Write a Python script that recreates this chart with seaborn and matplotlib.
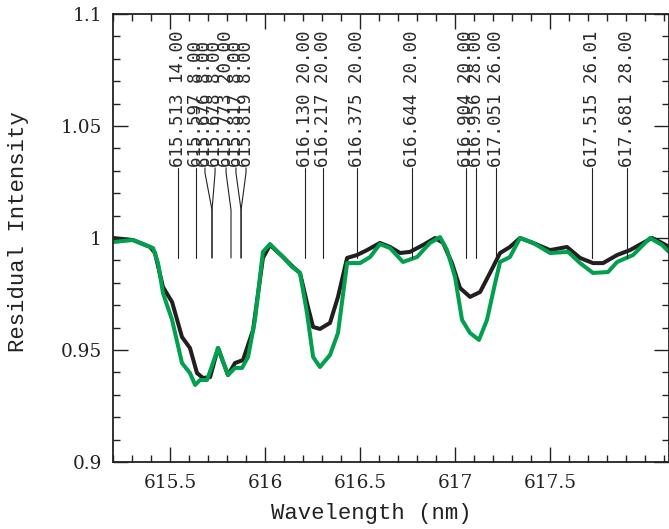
import matplotlib
matplotlib.use("Agg")
import numpy as np
import pandas as pd
import seaborn as sns
import matplotlib.pyplot as plt
from matplotlib.ticker import FixedLocator, MultipleLocator, FuncFormatter

# ---------------- data ----------------
obs_wl = [615.2, 615.305, 615.395, 615.421, 615.463, 615.511, 615.563, 615.605, 615.642, 615.674,
          615.711, 615.753, 615.805, 615.842, 615.884, 615.937, 615.989, 616.026, 616.095, 616.147,
          616.184, 616.226, 616.253, 616.289, 616.342, 616.384, 616.432, 616.484, 616.537, 616.605,
          616.658, 616.711, 616.763, 616.832, 616.895, 616.937, 616.984, 617.026, 617.079, 617.132,
          617.184, 617.237, 617.289, 617.342, 617.411, 617.5, 617.589, 617.658, 617.726, 617.779,
          617.853, 617.921, 617.989, 618.037, 618.089, 618.126]
obs_ri = [1.0, 0.9991, 0.996, 0.9933, 0.9781, 0.9714, 0.9558, 0.9509, 0.9397, 0.9375,
          0.9379, 0.9509, 0.9388, 0.9442, 0.9455, 0.9589, 0.9911, 0.9969, 0.9915, 0.9871,
          0.9844, 0.9692, 0.9603, 0.9594, 0.9621, 0.9737, 0.9911, 0.9924, 0.9946, 0.9978,
          0.996, 0.9933, 0.9938, 0.9969, 1.0, 0.9978, 0.9888, 0.9777, 0.9737, 0.9759,
          0.9844, 0.9933, 0.996, 1.0, 0.9978, 0.9946, 0.996, 0.9911, 0.9888, 0.9888,
          0.9924, 0.9946, 0.9978, 1.0, 0.9978, 0.996]

mod_wl = [615.2, 615.305, 615.411, 615.437, 615.463, 615.511, 615.563, 615.605, 615.632, 615.658,
          615.695, 615.753, 615.805, 615.842, 615.879, 615.911, 615.947, 615.989, 616.026, 616.095,
          616.142, 616.184, 616.221, 616.253, 616.289, 616.342, 616.384, 616.432, 616.5, 616.553,
          616.605, 616.658, 616.726, 616.8, 616.868, 616.921, 616.958, 617.0, 617.037, 617.079,
          617.126, 617.168, 617.211, 617.237, 617.289, 617.342, 617.411, 617.5, 617.595, 617.658,
          617.726, 617.805, 617.853, 617.937, 618.026, 618.089, 618.126]
mod_ri = [0.9982, 0.9991, 0.9955, 0.9888, 0.9754, 0.9634, 0.9442, 0.9397, 0.9344, 0.9366,
          0.9366, 0.9509, 0.9388, 0.942, 0.942, 0.9469, 0.9634, 0.9938, 0.9973, 0.9915,
          0.9871, 0.9844, 0.9665, 0.9469, 0.9424, 0.9478, 0.9576, 0.9888, 0.9888, 0.9915,
          0.9973, 0.9955, 0.9893, 0.9915, 0.9978, 1.0004, 0.9946, 0.9826, 0.9634, 0.9576,
          0.9545, 0.9634, 0.9799, 0.9893, 0.9915, 1.0, 0.9978, 0.9933, 0.9938, 0.9888,
          0.9844, 0.9848, 0.9893, 0.9924, 1.0, 0.9969, 0.9938]

line_labels = ["615.513 14.00", "615.597 8.00", "615.676 8.00", "615.678 8.00", "615.773 20.00",
               "615.817 8.00", "615.819 8.00", "616.130 20.00", "616.217 20.00", "616.375 20.00",
               "616.644 20.00", "616.904 20.00", "616.956 28.00", "617.051 26.00", "617.515 26.01",
               "617.681 28.00"]
label_pos = [615.542, 615.637, 615.684, 615.737, 615.795, 615.847, 615.900, 616.211, 616.305,
             616.484, 616.774, 617.058, 617.111, 617.216, 617.721, 617.905]
mark_pos = [615.542, 615.637, 615.721, 615.721, 615.821, 615.874, 615.874, 616.211, 616.305,
            616.484, 616.774, 617.058, 617.111, 617.216, 617.721, 617.905]

x_major = [615.5, 616.0, 616.5, 617.0, 617.5]
y_major = [0.9, 0.95, 1.0, 1.05, 1.1]

# ---------------- figure ----------------
sns.set_theme(style="ticks")
plt.rcParams["font.family"] = ["DejaVu Serif"]
plt.rcParams["lines.solid_joinstyle"] = "round"
plt.rcParams["lines.solid_capstyle"] = "round"

W, H = 669, 529
fig = plt.figure(figsize=(W / 100, H / 100), dpi=100)
ax = fig.add_axes([113 / W, 1 - 462 / H, 556 / W, 448 / H])

df = pd.concat([
    pd.DataFrame({"wl": obs_wl, "ri": obs_ri, "series": "observed"}),
    pd.DataFrame({"wl": mod_wl, "ri": mod_ri, "series": "synthetic"}),
])
sns.lineplot(data=df, x="wl", y="ri", hue="series", hue_order=["observed", "synthetic"],
             palette={"observed": "#231f20", "synthetic": "#00a04e"},
             estimator=None, sort=False, linewidth=2.9, legend=False, ax=ax)

# line identifications
y_top, y_kink, y_bot = 1.0313, 1.0125, 0.9911
for lab, lx, mx in zip(line_labels, label_pos, mark_pos):
    ax.plot([lx, lx, mx, mx], [y_top, y_top - 0.0022, y_kink, y_bot], color="#222222",
            lw=0.8, solid_joinstyle="miter")
    ax.text(lx, y_top + 0.0004, lab, rotation=90, ha="center", va="bottom",
            fontsize=12.6, family="DejaVu Sans Mono", color="#2a2a2a")

ax.set_xlim(615.2, 618.126)
ax.set_ylim(0.9, 1.1)
ax.xaxis.set_major_locator(FixedLocator(x_major))
ax.xaxis.set_minor_locator(MultipleLocator(0.1))
ax.yaxis.set_major_locator(FixedLocator(y_major))
ax.yaxis.set_minor_locator(MultipleLocator(0.01))
fmt = FuncFormatter(lambda v, p: "%g" % round(v, 3))
ax.xaxis.set_major_formatter(fmt)
ax.yaxis.set_major_formatter(fmt)

ax.tick_params(which="both", direction="in", top=True, right=True, color="#222222", width=1.0)
ax.tick_params(which="major", length=10.8, labelsize=13.3, labelcolor="#222222")
ax.tick_params(axis="x", which="major", pad=9)
ax.tick_params(axis="y", which="major", pad=8)
ax.tick_params(which="minor", length=5)
for s in ax.spines.values():
    s.set_linewidth(1.3)
    s.set_color("#222222")

ax.set_xlabel("Wavelength (nm)", family="Liberation Mono", fontsize=16, color="#222222")
ax.set_ylabel("Residual Intensity", family="Liberation Mono", fontsize=16, color="#222222")
ax.xaxis.set_label_coords((371 - 113) / 556, (462 - 514) / 448)
ax.yaxis.set_label_coords((19 - 113) / 556, (462 - 232) / 448)
ax.xaxis.label.set_va("center")
ax.yaxis.label.set_va("center")

fig.savefig("out.png", dpi=100)
